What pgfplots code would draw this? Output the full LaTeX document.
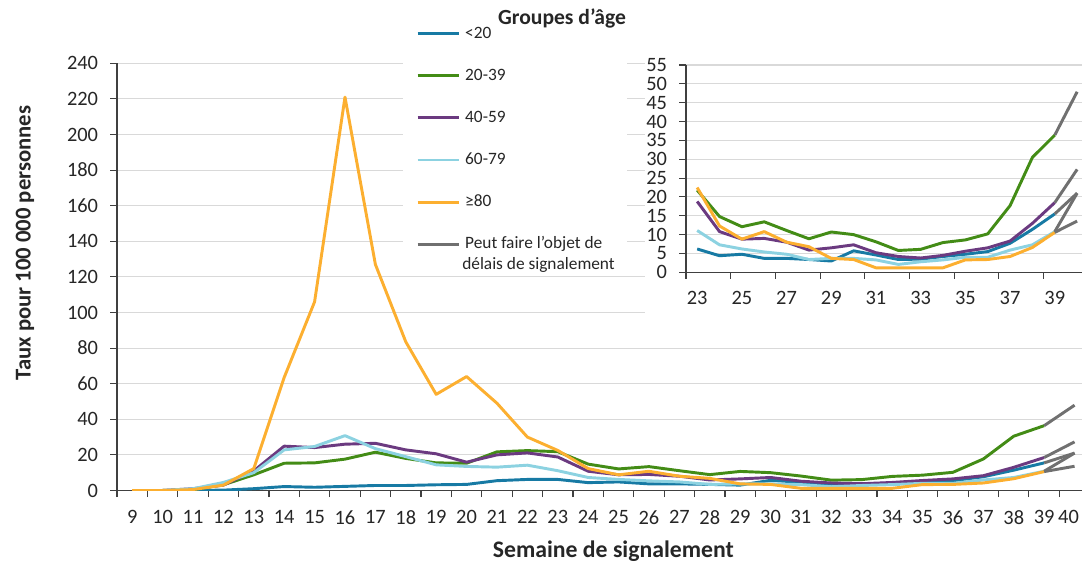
\documentclass[border=0pt]{standalone}
\usepackage{fontspec}
\setmainfont{Carlito}
\usepackage{pgfplots}
\usepackage{pgfplotstable}
\pgfplotsset{compat=1.18}
\definecolor{cA}{RGB}{23,122,164}
\definecolor{cB}{RGB}{67,140,22}
\definecolor{cC}{RGB}{107,58,128}
\definecolor{cD}{RGB}{140,210,225}
\definecolor{cE}{RGB}{252,175,48}
\definecolor{cG}{RGB}{112,112,112}
\definecolor{gridc}{RGB}{217,217,217}
\definecolor{axc}{RGB}{64,64,64}
\definecolor{txt}{RGB}{38,38,38}

\pgfplotstableread{
week a b c d e
9 0 0 0 0 0
10 0 0 0 0 0
11 0 0.5 1 1 0.5
12 0.2 3.2 3 4.5 3
13 1.0 8.8 11 10 12.3
14 2.2 15.3 24.9 22.8 63.5
15 1.8 15.5 24.1 24.7 106
16 2.3 17.6 26 30.8 221
17 2.8 21.5 26.5 23.5 127
18 2.8 18 22.8 19 83.5
19 3.2 15.5 20.6 14.4 54
20 3.4 15.3 15.9 13.5 64
21 5.5 21.7 20 13.1 49
22 6.2 22.4 21.1 14.2 30
23 6.2 21.8 18.8 11.1 22.5
24 4.4 14.8 10.8 7.3 12.3
25 4.8 12.1 8.8 6.2 8.8
26 3.7 13.4 9.0 5.4 10.8
27 3.7 11.1 8.0 4.8 8.0
28 3.4 8.9 5.9 3.4 6.8
29 3.0 10.7 6.5 3.7 3.7
30 5.7 10.0 7.3 3.7 3.4
31 4.6 8.1 5.2 3.3 1.2
32 3.4 5.8 4.2 2.1 1.2
33 3.5 6.1 3.8 2.8 1.2
34 4.2 7.9 4.5 3.3 1.2
35 4.8 8.6 5.6 4.0 3.3
36 5.5 10.2 6.5 4.0 3.4
37 7.7 17.7 8.3 5.9 4.2
38 11.4 30.5 13.0 7.3 6.6
39 15.5 36.4 18.5 10.8 10.6
}\data

\pgfplotstableread{
week a b c d e
39 15.5 36.4 18.5 10.8 10.6
40 21.0 47.9 27.3 21.0 13.6
}\late

\pgfplotsset{
  common/.style={
    scale only axis,
    axis x line*=bottom, axis y line*=left,
    axis line style={axc, line width=0.8pt},
    tick align=outside,
    major tick length=5pt, minor tick length=5pt,
    tick style={axc, line width=0.8pt},
    major x tick style={draw=none},
    ymajorgrids, grid style={gridc, line width=0.8pt},
    /pgf/number format/assume math mode=true,
    tick label style={font=\fontsize{15.3}{17}\selectfont, text=txt},
    clip=true,
  },
  lw/.style={line width=2.2pt, line join=round},
}

\begin{document}
\begin{tikzpicture}
\useasboundingbox (0,0) rectangle (811.5pt,423.75pt);

\begin{axis}[common,
  at={(87.75pt,55.9pt)}, anchor=south west,
  width=725pt, height=320.4pt,
  xmin=-0.5, xmax=31.3, ymin=0, ymax=240,
  xtick={0,...,31},
  xticklabel={\pgfmathtruncatemacro\w{\tick+9}\ifnum\w=40 \hspace*{-9pt}\fi\w},
  minor xtick={-0.5,0.5,...,31.5},
  ytick={0,20,...,240},
  yticklabel style={anchor=east, inner sep=0pt, xshift=-9pt},
  xticklabel style={anchor=north, inner sep=0pt, yshift=-10pt},
  legend style={at={(axis description cs:0.3093,1.0878)}, anchor=north west,
    draw=none, fill=none, inner sep=0pt, row sep=19.85pt, column sep=3.75pt,
    font=\fontsize{13}{15}\selectfont, text=txt,
    nodes={inner sep=0pt, text height=0.9em, text depth=0.27em}},
  legend cell align=left,
  legend image code/.code={\draw[#1, line width=2.2pt] (0pt,0pt) -- (30.75pt,0pt);},
]
\fill[white] (axis cs:8.91,124) rectangle (axis cs:16.28,250);
\fill[white] (axis cs:16.87,93) rectangle (axis cs:32,250);
\addplot[cA, lw] table[x expr=\thisrow{week}-9, y=a] {\data};
\addlegendentry{<20}
\addplot[cB, lw] table[x expr=\thisrow{week}-9, y=b] {\data};
\addlegendentry{20-39}
\addplot[cC, lw] table[x expr=\thisrow{week}-9, y=c] {\data};
\addlegendentry{40-59}
\addplot[cD, lw] table[x expr=\thisrow{week}-9, y=d] {\data};
\addlegendentry{60-79}
\addplot[cE, lw] table[x expr=\thisrow{week}-9, y=e] {\data};
\addlegendentry{≥80}
\addplot[cG, lw] table[x expr=\thisrow{week}-9, y=b] {\late};
\addlegendentry{Peut faire l’objet de}
\addplot[cG, lw, forget plot] table[x expr=\thisrow{week}-9, y=c] {\late};
\addplot[cG, lw, forget plot] table[x expr=\thisrow{week}-9, y=a] {\late};
\addplot[cG, lw, forget plot] table[x expr=\thisrow{week}-9, y=d] {\late};
\addplot[cG, lw, forget plot] table[x expr=\thisrow{week}-9, y=e] {\late};
\end{axis}

\begin{axis}[common,
  at={(514.5pt,219.5pt)}, anchor=south west,
  width=296.7pt, height=155.5pt,
  xmin=-0.5, xmax=17.2, ymin=0, ymax=55,
  xtick={0,2,...,16},
  xticklabel={\pgfmathtruncatemacro\w{\tick+23}\w},
  minor xtick={-0.5,1.5,...,17.5},
  ytick={0,5,...,55},
  yticklabel style={anchor=east, inner sep=0pt, xshift=-9pt},
  xticklabel style={anchor=north, inner sep=0pt, yshift=-9pt},
]
\addplot[cA, lw, restrict x to domain=0:17] table[x expr=\thisrow{week}-23, y=a] {\data};
\addplot[cB, lw, restrict x to domain=0:17] table[x expr=\thisrow{week}-23, y=b] {\data};
\addplot[cC, lw, restrict x to domain=0:17] table[x expr=\thisrow{week}-23, y=c] {\data};
\addplot[cD, lw, restrict x to domain=0:17] table[x expr=\thisrow{week}-23, y=d] {\data};
\addplot[cE, lw, restrict x to domain=0:17] table[x expr=\thisrow{week}-23, y=e] {\data};
\addplot[cG, lw] table[x expr=\thisrow{week}-23, y=b] {\late};
\addplot[cG, lw] table[x expr=\thisrow{week}-23, y=c] {\late};
\addplot[cG, lw] table[x expr=\thisrow{week}-23, y=a] {\late};
\addplot[cG, lw] table[x expr=\thisrow{week}-23, y=d] {\late};
\addplot[cG, lw] table[x expr=\thisrow{week}-23, y=e] {\late};
\end{axis}

\node[font=\bfseries\fontsize{16.2}{18}\selectfont, text=txt] at (421.5pt,410.25pt) {Groupes d’âge};
\node[anchor=west, inner sep=0pt, text height=0.9em, text depth=0.27em,
  font=\fontsize{13}{15}\selectfont, text=txt] at (346.5pt,225pt) {délais de signalement};
\node[rotate=90, font=\bfseries\fontsize{17}{20}\selectfont, text=txt] at (18.75pt,241.5pt) {Taux pour 100 000 personnes};
\node[font=\bfseries\fontsize{17.8}{21}\selectfont, text=txt] at (460pt,10.5pt) {Semaine de signalement};
\end{tikzpicture}
\end{document}
